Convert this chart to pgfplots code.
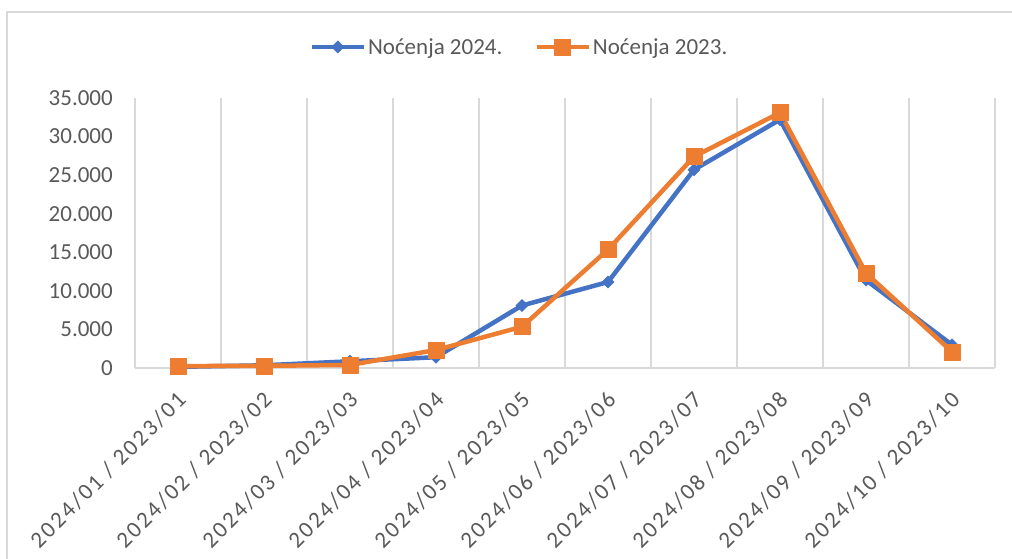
\documentclass[border=0pt]{standalone}
\usepackage{pgfplots}
\pgfplotsset{compat=1.18}
\usepackage{fontspec}
\setmainfont{Carlito}
\newfontfamily\spaced{Carlito}[LetterSpace=10]
\definecolor{cblue}{HTML}{4472C4}
\definecolor{corange}{HTML}{ED7D31}
\definecolor{ctext}{HTML}{595959}
\definecolor{cgrid}{HTML}{D9D9D9}
\begin{document}
\begin{tikzpicture}
\path[use as bounding box] (-135pt,-190pt) rectangle (877pt,368pt);
\draw[cgrid, line width=1.3pt] (-128pt,-200pt) -- (-128pt,356pt) -- (890pt,356pt);
\begin{axis}[
  at={(0pt,0pt)}, anchor=south west,
  scale only axis, width=860pt, height=270pt,
  xmin=-0.5, xmax=9.5, ymin=0, ymax=35000,
  axis line style={draw=none},
  major tick length=0pt, minor tick length=0pt,
  tick style={draw=none},
  xtick={0,...,9},
  xticklabels={2024/01 / 2023/01,2024/02 / 2023/02,2024/03 / 2023/03,2024/04 / 2023/04,2024/05 / 2023/05,2024/06 / 2023/06,2024/07 / 2023/07,2024/08 / 2023/08,2024/09 / 2023/09,2024/10 / 2023/10},
  minor xtick={-0.5,0.5,...,9.5},
  xminorgrids=true,
  minor grid style={cgrid, line width=1.3pt},
  ytick={0,5000,...,35000},
  scaled y ticks=false,
  /pgf/number format/.cd, 1000 sep={.}, assume math mode=true, /pgfplots/.cd,
  xticklabel style={xshift=4pt, yshift=-28pt, rotate=45, anchor=east, inner sep=0pt, font=\spaced\fontsize{23}{27}\selectfont, text=ctext},
  yticklabel style={anchor=east, inner sep=0pt, xshift=-22pt, font=\fontsize{23}{27}\selectfont, text=ctext},
  legend columns=2,
  legend style={draw=none, fill=none, at={(0.447,1.189)}, anchor=center, font=\fontsize{23}{27}\selectfont, text=ctext, nodes={inner xsep=2pt, inner ysep=1pt}, /tikz/every even column/.append style={column sep=30pt}},
  legend image code/.code={\draw[#1, mark repeat=2, mark phase=2] plot coordinates {(0pt,0pt) (26pt,0pt) (52pt,0pt)};},
]
\draw[cgrid, line width=1.3pt] (axis cs:-0.5,0) -- (axis cs:9.5,0);
\addplot[cblue, line width=4.5pt, line join=round, mark=square*, mark size=4.3pt, mark options={rotate=45, line width=0.5pt, solid}]
coordinates {(0,150) (1,350) (2,870) (3,1400) (4,8100) (5,11150) (6,25700) (7,32200) (8,11400) (9,3000)};
\addlegendentry{Noćenja 2024.}
\addplot[corange, line width=4.5pt, line join=round, mark=square*, mark size=8pt, mark options={line width=0.5pt, solid}]
coordinates {(0,250) (1,280) (2,400) (3,2330) (4,5350) (5,15350) (6,27400) (7,33100) (8,12300) (9,2100)};
\addlegendentry{Noćenja 2023.}
\end{axis}
\end{tikzpicture}
\end{document}
